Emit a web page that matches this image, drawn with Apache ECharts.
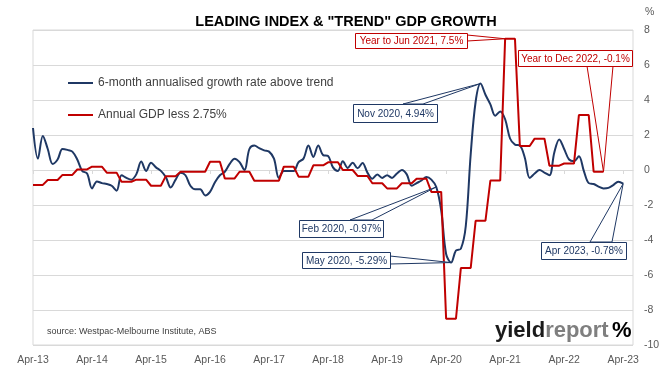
<!DOCTYPE html>
<html><head><meta charset="utf-8">
<script src="https://cdn.jsdelivr.net/npm/echarts@6/dist/echarts.min.js"></script>
<style>html,body{margin:0;padding:0;background:#fff}#c{width:671px;height:368px}</style>
</head><body><div id="c"></div>
<script>
// ---------- data ----------
const monthNames = ['Jan','Feb','Mar','Apr','May','Jun','Jul','Aug','Sep','Oct','Nov','Dec'];
const axisStart = {year: 2013, month: 3};   // Apr-13
const axisMonths = 123;                      // Apr-13 .. Jun-23
const categories = [];
for (let i = 0; i < axisMonths; i++) {
  const mm = (axisStart.month + i) % 12;
  const yy = axisStart.year + Math.floor((axisStart.month + i) / 12);
  categories.push(monthNames[mm] + '-' + String(yy % 100).padStart(2, '0'));
}

const seriesNames = ['6-month annualised growth rate above trend', 'Annual GDP less 2.75%'];

// 6-month annualised growth rate above trend, monthly Apr-13 .. Apr-23
const leadingIndex = [
  2.4, 0.65, 1.95, 1.2, 0.35, 0.6, 1.2, 1.15, 1.05, 0.6, -0.05, -0.2,
  -1.05, -0.65, -0.75, -0.8, -0.9, -1.18, -0.3, -0.45, -0.55, -0.25, 0.48, -0.05,
  0.42, 0.15, -0.05, -0.4, -1.0, -0.55, -0.15, -0.3, -0.9, -1.1, -1.1, -1.45,
  -1.25, -0.7, -0.3, -0.1, 0.35, 0.65, 0.45, 0.0, 1.2, 1.4, 1.25, 1.12,
  1.05, 0.65, -0.45, -0.05, -0.05, -0.05, 0.45, 0.65, 1.4, 0.75, 1.4, 0.85,
  0.8, 0.15, -0.05, 0.5, 0.12, 0.42, 0.1, 0.4, -0.15, -0.5, -0.25, -0.45,
  -0.3, -0.45, -0.2, 0.0, -0.25, -0.9, -0.75, -0.6, -0.4, -0.55, -0.97, -2.3,
  -4.8, -5.29, -4.6, -4.5, -3.2, 0.9, 3.9, 4.94, 4.3, 3.75, 3.1, 3.35,
  2.9, 1.8, 1.45, 1.4, 0.7, -0.45, -0.2, 0.0, -0.15, -0.3, 1.0, 1.75,
  1.2, 0.6, 0.5, 0.78, -0.05, -0.75, -0.8, -0.95, -1.05, -1.02, -0.86, -0.67,
  -0.78
];

// Annual GDP growth less 2.75%, quarterly Q2-13 (Apr-Jun 13) .. Q4-22 (Oct-Dec 22)
const gdpQuarterly = [
  -0.85, -0.57, -0.28, 0.03, 0.19, -0.15, -0.67, -0.55, -0.9, -0.35,
  -0.1, -0.1, 0.47, -0.48, -0.1, -0.61, -0.61, 0.19, -0.38, 0.27,
  0.44, 0.0, -0.34, -0.76, -1.05, -0.76, -0.5, -1.25, -8.5, -5.6,
  -2.9, -0.6, 7.5, 1.37, 1.79, 0.25, 0.37, 3.14, -0.1
];
// each quarterly value held over its three months
const gdpMonthly = gdpQuarterly.flatMap(v => [v, v, v]);

const yAxisRange = {min: -10, max: 8, step: 2};

const callouts = [
  {text: 'Year to Jun 2021, 7.5%',  series: 1, month: 'Apr-21', value: 7.5},
  {text: 'Year to Dec 2022, -0.1%', series: 1, month: 'Dec-22', value: -0.1},
  {text: 'Nov 2020, 4.94%',         series: 0, month: 'Nov-20', value: 4.94},
  {text: 'Feb 2020, -0.97%',        series: 0, month: 'Feb-20', value: -0.97},
  {text: 'May 2020, -5.29%',        series: 0, month: 'May-20', value: -5.29},
  {text: 'Apr 2023, -0.78%',        series: 0, month: 'Apr-23', value: -0.78}
];
// ---------- layout (pixels) for the callout boxes ----------
const calloutLayout = [
  {box: [355, 33, 112, 15], base: [[467, 35], [467, 41]]},
  {box: [518, 50, 114, 16], base: [[587, 66], [613, 66]]},
  {box: [353, 104, 84, 18], base: [[403, 104], [423, 104]]},
  {box: [299, 220, 84, 17], base: [[350, 220], [372, 220]]},
  {box: [302, 252, 88, 16], base: [[390, 256], [390, 264]]},
  {box: [541, 242, 85, 17], base: [[590, 242], [612, 242]]}
];

const BLUE = '#1f3864', RED = '#c00000', GRID = '#d9d9d9', TXT = '#595959';
const FONT = 'Liberation Sans';

const chart = echarts.init(document.getElementById('c'), null, {renderer: 'canvas'});
const option = {
  animation: false,
  backgroundColor: '#fff',
  title: {
    text: 'LEADING INDEX & "TREND" GDP GROWTH',
    left: 341, top: 9, textAlign: 'center',
    textStyle: {fontFamily: FONT, fontWeight: 'bold', fontSize: 14.5, color: '#000'}
  },
  grid: {left: 33, right: 38, top: 30, bottom: 23, show: true, borderColor: GRID, borderWidth: 1},
  legend: {
    data: seriesNames, orient: 'vertical', left: 63, top: 72, itemGap: 20,
    itemWidth: 25, itemHeight: 2, icon: 'rect',
    textStyle: {fontFamily: FONT, fontSize: 12, color: '#404040'}
  },
  xAxis: {
    type: 'category', data: categories, boundaryGap: false,
    axisLine: {lineStyle: {color: GRID}},
    axisTick: {show: true, interval: 11, length: 4, lineStyle: {color: GRID}},
    axisLabel: {interval: 11, color: TXT, fontFamily: FONT, fontSize: 10.5, margin: 10},
    splitLine: {show: false}
  },
  yAxis: {
    type: 'value', position: 'right', min: yAxisRange.min, max: yAxisRange.max, interval: yAxisRange.step,
    name: '%', nameLocation: 'end', nameGap: 12,
    nameTextStyle: {fontFamily: FONT, fontSize: 10.5, color: TXT, align: 'left', padding: [0, 0, 0, 12]},
    axisLine: {show: false}, axisTick: {show: false},
    axisLabel: {color: TXT, fontFamily: FONT, fontSize: 10.5, margin: 11},
    splitLine: {lineStyle: {color: GRID}}
  },
  series: [
    {name: seriesNames[0], type: 'line', data: leadingIndex, smooth: 0.35, symbol: 'none',
     lineStyle: {color: BLUE, width: 2}, itemStyle: {color: BLUE}, z: 3},
    {name: seriesNames[1], type: 'line', data: gdpMonthly, smooth: false, symbol: 'none',
     lineStyle: {color: RED, width: 2}, itemStyle: {color: RED}, z: 4}
  ]
};
chart.setOption(option);

// ---------- callouts, source, logo ----------
const graphics = [];
callouts.forEach((c, i) => {
  const color = c.series === 1 ? RED : BLUE;
  const idx = categories.indexOf(c.month);
  const tip = chart.convertToPixel({gridIndex: 0}, [idx, c.value]);
  const L = calloutLayout[i];
  const [bx, by, bw, bh] = L.box;
  graphics.push({
    type: 'polygon', z: 50,
    shape: {points: [L.base[0], tip, L.base[1]]},
    style: {fill: '#fff', stroke: color, lineWidth: 1}
  });
  graphics.push({
    type: 'rect', z: 51,
    shape: {x: bx + 0.5, y: by + 0.5, width: bw, height: bh},
    style: {fill: '#fff', stroke: color, lineWidth: 1}
  });
  graphics.push({
    type: 'text', z: 52,
    style: {text: c.text, x: bx + bw / 2 + 0.5, y: by + bh / 2 + 1, align: 'center', verticalAlign: 'middle',
            fill: color, font: '10px ' + FONT}
  });
});
graphics.push({
  type: 'text', z: 52,
  style: {text: 'source: Westpac-Melbourne Institute, ABS', x: 47, y: 332, verticalAlign: 'middle',
          fill: '#404040', font: '9px ' + FONT}
});
graphics.push({
  type: 'text', z: 52,
  style: {text: '{a|yield}{b|report}', x: 495, y: 331, verticalAlign: 'middle',
          rich: {a: {fill: '#1a1a1a', font: 'bold 22px ' + FONT}, b: {fill: '#7f7f7f', font: 'bold 22px ' + FONT}}}
});
graphics.push({
  type: 'text', z: 52,
  style: {text: '%', x: 612, y: 331, verticalAlign: 'middle', font: 'bold 22px ' + FONT,
          fill: new echarts.graphic.LinearGradient(0, 0, 1, 1, [
            {offset: 0, color: '#2f9a3c'}, {offset: 0.42, color: '#2f9a3c'},
            {offset: 0.47, color: '#222'}, {offset: 0.55, color: '#222'},
            {offset: 0.6, color: '#c00000'}, {offset: 1, color: '#c00000'}])}
});
chart.setOption({graphic: graphics});
</script></body></html>
